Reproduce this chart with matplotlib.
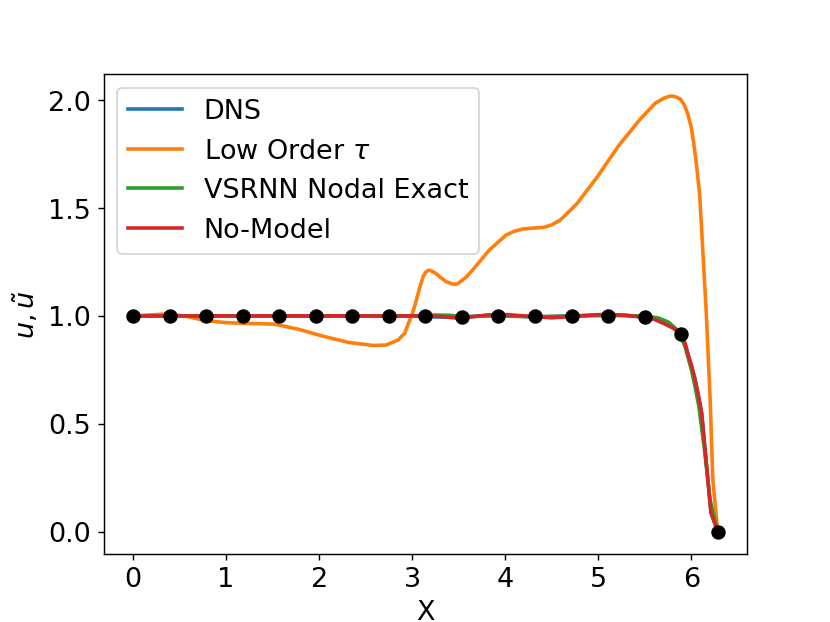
import matplotlib
matplotlib.use('Agg')
import matplotlib.pyplot as plt

# values
dns_x = [0.0, 0.5, 1.0, 1.5, 2.0, 2.5, 3.0, 3.2, 3.5, 3.9, 4.3, 4.7, 5.1, 5.3, 5.5,
         5.6, 5.7, 5.8, 5.89, 5.93, 5.96, 6.0, 6.04, 6.08, 6.11, 6.16, 6.21, 6.283]
dns_y = [1.0, 1.0, 1.0, 1.0, 1.0, 1.0, 1.0, 0.996, 0.992, 1.006, 0.995, 1.0, 1.006, 1.002, 0.994,
         0.985, 0.966, 0.945, 0.917, 0.875, 0.827, 0.77, 0.704, 0.62, 0.55, 0.318, 0.088, 0.0]

low_x = [0.0, 0.2, 0.36, 0.55, 0.78, 1.0, 1.16, 1.52, 1.78, 2.05, 2.32, 2.58, 2.72, 2.85,
         2.92, 2.96, 3.0, 3.03, 3.08, 3.12, 3.15, 3.18, 3.21, 3.26, 3.30, 3.36, 3.43, 3.48,
         3.52, 3.58, 3.65, 3.83, 4.01, 4.10, 4.19, 4.30, 4.41, 4.50, 4.59, 4.77, 4.99, 5.21,
         5.44, 5.61, 5.70, 5.75, 5.785, 5.83, 5.88, 5.92, 5.96, 6.0, 6.03, 6.06, 6.09, 6.12,
         6.16, 6.20, 6.23, 6.283]
low_y = [1.0, 1.005, 1.009, 1.0, 0.978, 0.969, 0.966, 0.962, 0.938, 0.905, 0.877, 0.863, 0.865, 0.889,
         0.92, 0.966, 1.01, 1.05, 1.13, 1.185, 1.205, 1.212, 1.208, 1.195, 1.18, 1.16, 1.148, 1.147,
         1.159, 1.18, 1.213, 1.306, 1.375, 1.393, 1.403, 1.407, 1.41, 1.422, 1.444, 1.52, 1.645, 1.784,
         1.907, 1.985, 2.008, 2.016, 2.019, 2.015, 2.005, 1.98, 1.938, 1.87, 1.784, 1.68, 1.552, 1.32,
         1.01, 0.626, 0.24, 0.0]

vsrnn_x = [0.0, 0.5, 1.0, 1.5, 2.0, 2.5, 3.0, 3.2, 3.4, 3.55, 3.9, 4.3, 4.7, 5.1, 5.5,
           5.65, 5.75, 5.85, 5.93, 6.0, 6.04, 6.08, 6.14, 6.2, 6.283]
vsrnn_y = [1.0, 1.0, 1.0, 1.0, 1.0, 1.0, 1.0, 1.004, 1.003, 0.997, 1.0, 0.996, 0.999, 1.002, 1.0,
           0.99, 0.972, 0.935, 0.86, 0.75, 0.67, 0.58, 0.38, 0.15, 0.0]

nomodel_x = [0.0, 0.5, 1.0, 1.5, 2.0, 2.5, 3.0, 3.14, 3.3, 3.52, 3.72, 3.92, 4.2, 4.5, 4.8,
             5.08, 5.3, 5.48, 5.6, 5.7, 5.8, 5.89, 5.93, 5.96, 6.0, 6.04, 6.08, 6.11, 6.16,
             6.21, 6.283]
nomodel_y = [1.0, 1.0, 1.0, 1.0, 1.0, 1.0, 1.0, 1.0, 0.998, 0.989, 1.0, 1.009, 1.0, 0.991, 1.0,
             1.008, 1.003, 0.994, 0.985, 0.966, 0.945, 0.917, 0.875, 0.827, 0.77, 0.704, 0.62,
             0.55, 0.318, 0.088, 0.0]

node_x = [0.0, 0.393, 0.785, 1.178, 1.571, 1.963, 2.356, 2.749, 3.142, 3.534, 3.927,
          4.320, 4.712, 5.105, 5.498, 5.890, 6.283]
node_y = [1.0, 1.0, 1.0, 1.0, 1.0, 1.0, 1.0, 1.0, 1.0, 0.996, 1.0,
          1.0, 1.0, 1.0, 0.994, 0.917, 0.0]

plt.rcParams['font.size'] = 15
fig = plt.figure(figsize=(6.4, 4.8), dpi=830 / 6.4)
ax = fig.add_subplot(111)
ax.plot(dns_x, dns_y, lw=2, label='DNS')
ax.plot(low_x, low_y, lw=2, label=r'Low Order $\tau$')
ax.plot(vsrnn_x, vsrnn_y, lw=2, label='VSRNN Nodal Exact')
ax.plot(nomodel_x, nomodel_y, lw=2, label='No-Model')
ax.plot(node_x, node_y, 'ko', ms=7)
ax.set_xlabel('X')
ax.set_ylabel(r'$u, \tilde{u}$')
ax.legend(loc='upper left')
fig.savefig('out.png')
